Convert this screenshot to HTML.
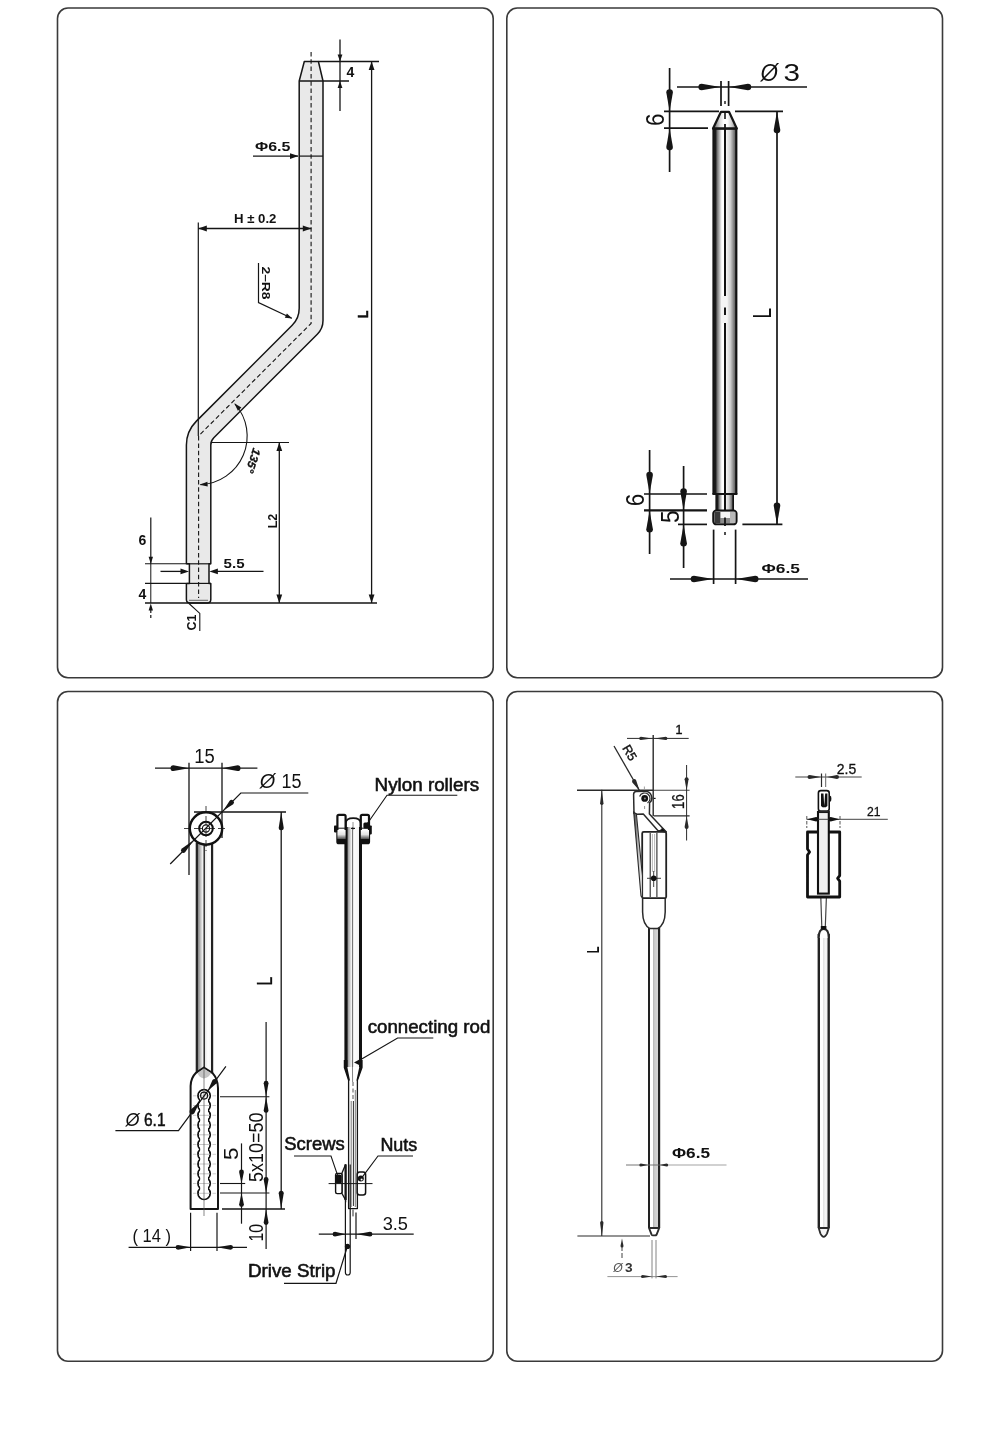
<!DOCTYPE html>
<html lang="en"><head><meta charset="utf-8"><title>Rod dimension drawings</title>
<style>
html,body{margin:0;padding:0;background:#fff;}
body{width:1000px;height:1434px;overflow:hidden;font-family:"Liberation Sans",sans-serif;}
svg{display:block;filter:grayscale(1);}
</style></head><body>
<svg width="1000" height="1434" viewBox="0 0 1000 1434">
<rect width="1000" height="1434" fill="#fff"/>
<rect x="57.5" y="8" width="435.7" height="669.7" rx="10.5" ry="10.5" fill="#fff" stroke="#3a3a3a" stroke-width="1.6"/>
<rect x="506.8" y="8" width="435.7" height="669.7" rx="10.5" ry="10.5" fill="#fff" stroke="#3a3a3a" stroke-width="1.6"/>
<rect x="57.5" y="691.5" width="435.7" height="669.7" rx="10.5" ry="10.5" fill="#fff" stroke="#3a3a3a" stroke-width="1.6"/>
<rect x="506.8" y="691.5" width="435.7" height="669.7" rx="10.5" ry="10.5" fill="#fff" stroke="#3a3a3a" stroke-width="1.6"/>
<path d="M304.3,61.5 L318.4,61.5 L323,81 L323,320.5 Q323,328.5 317.3,334.2 L213.8,437.7 Q210.8,440.7 210.8,445 L210.8,563.8 L209,563.8 L209,583.4 L210.8,583.4 L210.8,599.5 Q210.8,603 207.3,603 L190,603 Q186.4,603 186.4,599.5 L186.4,583.4 L189.4,583.4 L189.4,563.8 L186.4,563.8 L186.4,445.1 Q186.4,431.1 196.4,421.1 L292.2,325.3 Q299.2,318.3 299.2,308.3 L299.2,81 Z" stroke="#151515" stroke-width="1.5" fill="#ebe8e8" stroke-linejoin="round"/>
<line x1="299.2" y1="81.0" x2="349.0" y2="81.0" stroke="#151515" stroke-width="1.3" />
<line x1="299.2" y1="156.1" x2="323.0" y2="156.1" stroke="#151515" stroke-width="1.2" />
<line x1="186.4" y1="563.8" x2="210.8" y2="563.8" stroke="#151515" stroke-width="1.2" />
<line x1="186.4" y1="583.4" x2="210.8" y2="583.4" stroke="#151515" stroke-width="1.2" />
<line x1="189.0" y1="600.3" x2="208.0" y2="600.3" stroke="#444" stroke-width="0.8" />
<path d="M311.1,52 L311.1,323.4 L198.6,435.9 L198.6,598" stroke="#151515" stroke-width="1.1" fill="none" stroke-dasharray="4.5 2.8"/>
<line x1="318.4" y1="61.5" x2="379.0" y2="61.5" stroke="#151515" stroke-width="1.3" />
<line x1="340.0" y1="39.5" x2="340.0" y2="111.0" stroke="#151515" stroke-width="1.3" />
<polygon points="340.0,61.5 337.6,54.5 342.4,54.5" fill="#151515"/>
<polygon points="340.0,81.0 342.4,88.0 337.6,88.0" fill="#151515"/>
<text x="346.5" y="76.5" font-family="&quot;Liberation Sans&quot;, sans-serif" font-size="14" font-weight="bold" text-anchor="start" fill="#111">4</text>
<line x1="371.6" y1="61.5" x2="371.6" y2="603.0" stroke="#151515" stroke-width="1.3" />
<polygon points="371.6,61.5 374.5,70.0 368.7,70.0" fill="#151515"/>
<polygon points="371.6,603.0 368.7,594.5 374.5,594.5" fill="#151515"/>
<text x="367.8" y="314.3" font-family="&quot;Liberation Sans&quot;, sans-serif" font-size="14.5" font-weight="bold" text-anchor="middle" fill="#111" stroke="#111" stroke-width="0.5" textLength="7.4" lengthAdjust="spacingAndGlyphs" transform="rotate(-90 367.8 314.3)">L</text>
<line x1="253.0" y1="156.1" x2="298.0" y2="156.1" stroke="#151515" stroke-width="1.3" />
<polygon points="298.5,156.1 290.0,159.0 290.0,153.2" fill="#151515"/>
<text x="255.0" y="151.0" font-family="&quot;Liberation Sans&quot;, sans-serif" font-size="13.5" font-weight="bold" text-anchor="start" fill="#111" textLength="35.5" lengthAdjust="spacingAndGlyphs">Φ6.5</text>
<line x1="198.3" y1="222.5" x2="198.3" y2="436.0" stroke="#151515" stroke-width="1.2" />
<line x1="198.3" y1="228.5" x2="311.3" y2="228.5" stroke="#151515" stroke-width="1.3" />
<polygon points="198.3,228.5 206.8,225.6 206.8,231.4" fill="#151515"/>
<polygon points="311.3,228.5 302.8,231.4 302.8,225.6" fill="#151515"/>
<text x="234.0" y="223.4" font-family="&quot;Liberation Sans&quot;, sans-serif" font-size="12" font-weight="bold" text-anchor="start" fill="#111" textLength="42.4" lengthAdjust="spacingAndGlyphs">H ± 0.2</text>
<path d="M258.5,263 L258.5,302.6 L291.8,318.3" stroke="#151515" stroke-width="1.2" fill="none" />
<polygon points="292.2,318.5 284.8,317.7 286.9,313.4" fill="#151515"/>
<text x="261.8" y="266.5" font-family="&quot;Liberation Sans&quot;, sans-serif" font-size="11.5" font-weight="bold" text-anchor="start" fill="#111" textLength="33.0" lengthAdjust="spacingAndGlyphs" transform="rotate(90 261.8 266.5)">2–R8</text>
<line x1="210.8" y1="442.5" x2="289.0" y2="442.5" stroke="#151515" stroke-width="1.2" />
<path d="M235.0,404.0 A48.5,48.5 0 0 1 200.4,484.6" stroke="#151515" stroke-width="1.1" fill="none" />
<polygon points="234.3,403.2 241.4,407.5 237.9,410.8" fill="#151515"/>
<polygon points="199.6,484.7 207.4,481.7 207.7,486.5" fill="#151515"/>
<text x="253.2" y="447.5" font-family="&quot;Liberation Sans&quot;, sans-serif" font-size="11.5" font-weight="bold" text-anchor="start" fill="#111" font-style="italic" stroke="#111" stroke-width="0.3" textLength="25.0" lengthAdjust="spacingAndGlyphs" transform="rotate(108 253.2 447.5)">135°</text>
<line x1="279.3" y1="442.5" x2="279.3" y2="603.0" stroke="#151515" stroke-width="1.3" />
<polygon points="279.3,442.5 282.2,451.0 276.4,451.0" fill="#151515"/>
<polygon points="279.3,603.0 276.4,594.5 282.2,594.5" fill="#151515"/>
<text x="277.3" y="521.0" font-family="&quot;Liberation Sans&quot;, sans-serif" font-size="12" font-weight="bold" text-anchor="middle" fill="#111" textLength="14.5" lengthAdjust="spacingAndGlyphs" transform="rotate(-90 277.3 521.0)">L2</text>
<line x1="145.0" y1="603.0" x2="377.0" y2="603.0" stroke="#151515" stroke-width="1.3" />
<line x1="145.0" y1="563.8" x2="186.0" y2="563.8" stroke="#151515" stroke-width="1.1" />
<line x1="145.0" y1="583.4" x2="186.0" y2="583.4" stroke="#151515" stroke-width="1.1" />
<line x1="150.8" y1="517.5" x2="150.8" y2="563.0" stroke="#151515" stroke-width="1.2" />
<line x1="150.8" y1="563.0" x2="150.8" y2="603.0" stroke="#151515" stroke-width="1.0" />
<polygon points="150.8,563.8 148.6,556.8 153.0,556.8" fill="#151515"/>
<line x1="150.8" y1="610.0" x2="150.8" y2="618.0" stroke="#151515" stroke-width="1.2" stroke-dasharray="3 2"/>
<polygon points="150.8,603.5 153.0,610.5 148.6,610.5" fill="#151515"/>
<text x="138.5" y="544.8" font-family="&quot;Liberation Sans&quot;, sans-serif" font-size="14" font-weight="bold" text-anchor="start" fill="#111">6</text>
<text x="138.5" y="599.4" font-family="&quot;Liberation Sans&quot;, sans-serif" font-size="14" font-weight="bold" text-anchor="start" fill="#111">4</text>
<line x1="160.5" y1="571.4" x2="182.0" y2="571.4" stroke="#151515" stroke-width="1.3" />
<polygon points="189.0,571.4 180.5,574.3 180.5,568.5" fill="#151515"/>
<line x1="217.0" y1="571.4" x2="263.5" y2="571.4" stroke="#151515" stroke-width="1.3" />
<polygon points="209.4,571.4 217.9,568.5 217.9,574.3" fill="#151515"/>
<text x="223.6" y="568.0" font-family="&quot;Liberation Sans&quot;, sans-serif" font-size="13.5" font-weight="bold" text-anchor="start" fill="#111" textLength="21.0" lengthAdjust="spacingAndGlyphs">5.5</text>
<path d="M189,603.5 L199.8,613.4 L199.8,631" stroke="#151515" stroke-width="1.1" fill="none" />
<text x="196.3" y="622.5" font-family="&quot;Liberation Sans&quot;, sans-serif" font-size="12" font-weight="bold" text-anchor="middle" fill="#111" textLength="16.0" lengthAdjust="spacingAndGlyphs" transform="rotate(-90 196.3 622.5)">C1</text>
<defs>
<linearGradient id="g2" x1="0" x2="1" y1="0" y2="0">
<stop offset="0" stop-color="#111"/><stop offset="0.13" stop-color="#1c1c1c"/><stop offset="0.2" stop-color="#777"/>
<stop offset="0.38" stop-color="#fff"/><stop offset="0.46" stop-color="#fff"/><stop offset="0.47" stop-color="#111"/><stop offset="0.55" stop-color="#111"/>
<stop offset="0.56" stop-color="#f2f2f2"/><stop offset="0.72" stop-color="#cfcfcf"/><stop offset="0.9" stop-color="#666"/><stop offset="0.93" stop-color="#111"/><stop offset="1" stop-color="#111"/>
</linearGradient>
<linearGradient id="g3" x1="0" x2="1" y1="0" y2="0">
<stop offset="0" stop-color="#222"/><stop offset="0.11" stop-color="#2a2a2a"/><stop offset="0.15" stop-color="#8a8a92"/>
<stop offset="0.38" stop-color="#ececf0"/><stop offset="0.44" stop-color="#fff"/><stop offset="0.45" stop-color="#333"/><stop offset="0.51" stop-color="#333"/>
<stop offset="0.53" stop-color="#e8e8ee"/><stop offset="0.7" stop-color="#fff"/><stop offset="0.88" stop-color="#f4f4f4"/><stop offset="0.90" stop-color="#222"/><stop offset="1" stop-color="#222"/>
</linearGradient>
<linearGradient id="g4" x1="0" x2="1" y1="0" y2="0">
<stop offset="0" stop-color="#222"/><stop offset="0.14" stop-color="#333"/><stop offset="0.2" stop-color="#aaa"/>
<stop offset="0.42" stop-color="#f2f2f2"/><stop offset="0.5" stop-color="#999"/><stop offset="0.58" stop-color="#f2f2f2"/>
<stop offset="0.8" stop-color="#aaa"/><stop offset="0.86" stop-color="#333"/><stop offset="1" stop-color="#222"/>
</linearGradient>
<linearGradient id="g2c" x1="0" x2="1" y1="0" y2="0">
<stop offset="0" stop-color="#555"/><stop offset="0.3" stop-color="#ddd"/><stop offset="0.45" stop-color="#fff"/><stop offset="0.6" stop-color="#fff"/><stop offset="0.8" stop-color="#ccc"/><stop offset="1" stop-color="#666"/>
</linearGradient>
<linearGradient id="g5" x1="0" x2="1" y1="0" y2="0">
<stop offset="0" stop-color="#111"/><stop offset="0.16" stop-color="#111"/><stop offset="0.2" stop-color="#999"/>
<stop offset="0.4" stop-color="#f2f2f2"/><stop offset="0.45" stop-color="#fff"/><stop offset="0.46" stop-color="#777"/><stop offset="0.50" stop-color="#777"/>
<stop offset="0.52" stop-color="#fff"/><stop offset="0.82" stop-color="#f4f4f4"/><stop offset="0.84" stop-color="#111"/><stop offset="1" stop-color="#111"/>
</linearGradient>
<linearGradient id="gr" x1="0" x2="0" y1="0" y2="1">
<stop offset="0" stop-color="#fff"/><stop offset="0.35" stop-color="#e4e4e4"/><stop offset="0.68" stop-color="#555"/><stop offset="0.72" stop-color="#111"/><stop offset="1" stop-color="#111"/>
</linearGradient>
<linearGradient id="gw" x1="0" x2="1" y1="0" y2="0">
<stop offset="0" stop-color="#333"/><stop offset="0.5" stop-color="#bbb"/><stop offset="1" stop-color="#fff"/>
</linearGradient>
<linearGradient id="g6" x1="0" x2="1" y1="0" y2="0">
<stop offset="0" stop-color="#222"/><stop offset="0.17" stop-color="#222"/><stop offset="0.2" stop-color="#fff"/>
<stop offset="0.38" stop-color="#fff"/><stop offset="0.42" stop-color="#ccc"/><stop offset="0.48" stop-color="#aaa"/><stop offset="0.54" stop-color="#ccc"/>
<stop offset="0.8" stop-color="#d4d4d4"/><stop offset="0.83" stop-color="#222"/><stop offset="1" stop-color="#222"/>
</linearGradient>
<linearGradient id="g7" x1="0" x2="1" y1="0" y2="0">
<stop offset="0" stop-color="#222"/><stop offset="0.18" stop-color="#222"/><stop offset="0.22" stop-color="#fff"/>
<stop offset="0.4" stop-color="#fff"/><stop offset="0.5" stop-color="#ddd"/><stop offset="0.6" stop-color="#f6f6f6"/>
<stop offset="0.79" stop-color="#f0f0f0"/><stop offset="0.82" stop-color="#222"/><stop offset="1" stop-color="#222"/>
</linearGradient>
</defs>
<rect x="712.4" y="128" width="25" height="366" fill="url(#g2)"/>
<path d="M713,128.5 L721,111.8 L729,111.8 L736.8,128.5 Z" stroke="#151515" stroke-width="2.2" fill="url(#g2c)" stroke-linejoin="round"/>
<line x1="725.0" y1="113.0" x2="725.0" y2="119.0" stroke="#151515" stroke-width="1.6" />
<line x1="725.0" y1="124.0" x2="725.0" y2="129.0" stroke="#151515" stroke-width="1.8" />
<line x1="712.6" y1="128.6" x2="737.2" y2="128.6" stroke="#151515" stroke-width="2.2" />
<rect x="721.6" y="296" width="6" height="27" fill="#f4f4f4"/>
<line x1="725.0" y1="307.5" x2="725.0" y2="315.0" stroke="#151515" stroke-width="2" />
<rect x="715.4" y="494" width="18.6" height="16.4" fill="url(#g2)"/>
<line x1="712.4" y1="494.0" x2="737.4" y2="494.0" stroke="#151515" stroke-width="2.0" />
<rect x="713.2" y="510.4" width="23.4" height="14" rx="3.2" ry="3.2" fill="#8a8a8a" stroke="#111" stroke-width="1.9"/>
<rect x="714.8" y="512" width="5.4" height="11" fill="#3a3a3a"/>
<rect x="720.6" y="512" width="9.4" height="6" fill="#f4f4f4"/>
<rect x="730" y="512" width="5.4" height="11" fill="#b8b8b8"/>
<line x1="725.0" y1="517.5" x2="725.0" y2="526.0" stroke="#151515" stroke-width="1.8" />
<line x1="725.0" y1="532.0" x2="725.0" y2="535.0" stroke="#151515" stroke-width="1.5" />
<line x1="677.0" y1="87.0" x2="807.0" y2="87.0" stroke="#151515" stroke-width="1.5" />
<line x1="721.0" y1="81.0" x2="721.0" y2="106.0" stroke="#151515" stroke-width="1.7" />
<line x1="728.6" y1="81.0" x2="728.6" y2="106.0" stroke="#151515" stroke-width="1.7" />
<path d="M720.40,87.00 L701.70,90.30 A3.30,3.30 0 0 1 701.70,83.70 Z" fill="#151515"/>
<path d="M729.20,87.00 L747.90,83.70 A3.30,3.30 0 0 1 747.90,90.30 Z" fill="#151515"/>
<line x1="725.0" y1="101.0" x2="725.0" y2="104.0" stroke="#151515" stroke-width="1.4" />
<text x="760.6" y="81.0" font-family="&quot;Liberation Sans&quot;, sans-serif" font-size="23.5" font-weight="normal" text-anchor="start" fill="#111" font-style="italic" textLength="17.5" lengthAdjust="spacingAndGlyphs">Ø</text>
<text x="783.6" y="81.0" font-family="&quot;Liberation Sans&quot;, sans-serif" font-size="23.5" font-weight="normal" text-anchor="start" fill="#111" textLength="16.5" lengthAdjust="spacingAndGlyphs">3</text>
<line x1="669.6" y1="68.0" x2="669.6" y2="172.0" stroke="#151515" stroke-width="1.7" />
<path d="M669.60,111.20 L666.30,92.50 A3.30,3.30 0 0 1 672.90,92.50 Z" fill="#151515"/>
<path d="M669.60,128.40 L672.90,147.10 A3.30,3.30 0 0 1 666.30,147.10 Z" fill="#151515"/>
<line x1="664.0" y1="111.4" x2="719.0" y2="111.4" stroke="#151515" stroke-width="1.7" />
<line x1="664.0" y1="128.2" x2="708.0" y2="128.2" stroke="#151515" stroke-width="1.7" />
<text x="664.2" y="119.6" font-family="&quot;Liberation Sans&quot;, sans-serif" font-size="26" font-weight="normal" text-anchor="middle" fill="#111" textLength="12.6" lengthAdjust="spacingAndGlyphs" transform="rotate(-90 664.2 119.6)">6</text>
<line x1="735.0" y1="111.4" x2="783.0" y2="111.4" stroke="#151515" stroke-width="1.7" />
<line x1="777.0" y1="111.4" x2="777.0" y2="524.4" stroke="#151515" stroke-width="1.7" />
<path d="M777.00,111.40 L780.30,130.10 A3.30,3.30 0 0 1 773.70,130.10 Z" fill="#151515"/>
<path d="M777.00,524.40 L773.70,505.70 A3.30,3.30 0 0 1 780.30,505.70 Z" fill="#151515"/>
<line x1="742.4" y1="524.4" x2="782.4" y2="524.4" stroke="#151515" stroke-width="1.7" />
<text x="771.2" y="313.2" font-family="&quot;Liberation Sans&quot;, sans-serif" font-size="25" font-weight="normal" text-anchor="middle" fill="#111" textLength="10.6" lengthAdjust="spacingAndGlyphs" transform="rotate(-90 771.2 313.2)">L</text>
<line x1="649.6" y1="450.0" x2="649.6" y2="554.0" stroke="#151515" stroke-width="1.7" />
<path d="M649.60,493.80 L646.30,475.10 A3.30,3.30 0 0 1 652.90,475.10 Z" fill="#151515"/>
<path d="M649.60,510.60 L652.90,529.30 A3.30,3.30 0 0 1 646.30,529.30 Z" fill="#151515"/>
<line x1="644.0" y1="494.0" x2="707.0" y2="494.0" stroke="#151515" stroke-width="1.7" />
<line x1="644.0" y1="510.4" x2="707.0" y2="510.4" stroke="#151515" stroke-width="2.1" />
<text x="644.2" y="500.0" font-family="&quot;Liberation Sans&quot;, sans-serif" font-size="26" font-weight="normal" text-anchor="middle" fill="#111" textLength="12.6" lengthAdjust="spacingAndGlyphs" transform="rotate(-90 644.2 500.0)">6</text>
<line x1="683.6" y1="466.0" x2="683.6" y2="568.0" stroke="#151515" stroke-width="1.7" />
<path d="M683.60,510.20 L680.30,491.50 A3.30,3.30 0 0 1 686.90,491.50 Z" fill="#151515"/>
<path d="M683.60,524.60 L686.90,543.30 A3.30,3.30 0 0 1 680.30,543.30 Z" fill="#151515"/>
<line x1="678.0" y1="524.4" x2="707.0" y2="524.4" stroke="#151515" stroke-width="1.7" />
<text x="679.2" y="516.8" font-family="&quot;Liberation Sans&quot;, sans-serif" font-size="26" font-weight="normal" text-anchor="middle" fill="#111" textLength="12.6" lengthAdjust="spacingAndGlyphs" transform="rotate(-90 679.2 516.8)">5</text>
<line x1="670.0" y1="579.0" x2="808.0" y2="579.0" stroke="#151515" stroke-width="1.5" />
<line x1="713.6" y1="529.6" x2="713.6" y2="584.0" stroke="#151515" stroke-width="1.7" />
<line x1="735.6" y1="529.6" x2="735.6" y2="584.0" stroke="#151515" stroke-width="1.7" />
<path d="M713.20,579.00 L694.00,582.30 A3.30,3.30 0 0 1 694.00,575.70 Z" fill="#151515"/>
<path d="M736.00,579.00 L755.20,575.70 A3.30,3.30 0 0 1 755.20,582.30 Z" fill="#151515"/>
<text x="761.6" y="573.0" font-family="&quot;Liberation Sans&quot;, sans-serif" font-size="13.5" font-weight="bold" text-anchor="start" fill="#111" textLength="38.4" lengthAdjust="spacingAndGlyphs">Φ6.5</text>
<rect x="195.7" y="843" width="17.5" height="230" fill="url(#g3)"/>
<path d="M190.6,1209 L190.6,1086 Q190.8,1078 196,1072.8 L203.9,1067.6 L212.6,1073.2 Q217.8,1079 218,1088 L218,1209 Z" stroke="#151515" stroke-width="2.0" fill="#fff" stroke-linejoin="round"/>
<path d="M203.9,1068.5 L197.5,1073 Q199,1077.5 203.9,1078.5 Q209,1077.5 211,1073 Z" stroke="#151515" stroke-width="0" fill="#c4c4cc" />
<circle cx="204.1" cy="1095.8" r="6.1" fill="none" stroke="#111" stroke-width="1.8"/>
<circle cx="204.1" cy="1105.5" r="6.1" fill="none" stroke="#111" stroke-width="1.8"/>
<circle cx="204.1" cy="1115.3" r="6.1" fill="none" stroke="#111" stroke-width="1.8"/>
<circle cx="204.1" cy="1125.0" r="6.1" fill="none" stroke="#111" stroke-width="1.8"/>
<circle cx="204.1" cy="1134.8" r="6.1" fill="none" stroke="#111" stroke-width="1.8"/>
<circle cx="204.1" cy="1144.5" r="6.1" fill="none" stroke="#111" stroke-width="1.8"/>
<circle cx="204.1" cy="1154.3" r="6.1" fill="none" stroke="#111" stroke-width="1.8"/>
<circle cx="204.1" cy="1164.0" r="6.1" fill="none" stroke="#111" stroke-width="1.8"/>
<circle cx="204.1" cy="1173.8" r="6.1" fill="none" stroke="#111" stroke-width="1.8"/>
<circle cx="204.1" cy="1183.5" r="6.1" fill="none" stroke="#111" stroke-width="1.8"/>
<circle cx="204.1" cy="1193.3" r="6.1" fill="none" stroke="#111" stroke-width="1.8"/>
<rect x="200.2" y="1095.8" width="7.8" height="97.5" fill="#fff"/>
<circle cx="204.1" cy="1095.8" r="5.2" fill="#fff"/>
<line x1="199.0" y1="1095.8" x2="210.0" y2="1095.8" stroke="#888" stroke-width="0.5" />
<circle cx="204.1" cy="1105.5" r="5.2" fill="#fff"/>
<line x1="199.0" y1="1105.5" x2="210.0" y2="1105.5" stroke="#888" stroke-width="0.5" />
<circle cx="204.1" cy="1115.3" r="5.2" fill="#fff"/>
<line x1="199.0" y1="1115.3" x2="210.0" y2="1115.3" stroke="#888" stroke-width="0.5" />
<circle cx="204.1" cy="1125.0" r="5.2" fill="#fff"/>
<line x1="199.0" y1="1125.0" x2="210.0" y2="1125.0" stroke="#888" stroke-width="0.5" />
<circle cx="204.1" cy="1134.8" r="5.2" fill="#fff"/>
<line x1="199.0" y1="1134.8" x2="210.0" y2="1134.8" stroke="#888" stroke-width="0.5" />
<circle cx="204.1" cy="1144.5" r="5.2" fill="#fff"/>
<line x1="199.0" y1="1144.5" x2="210.0" y2="1144.5" stroke="#888" stroke-width="0.5" />
<circle cx="204.1" cy="1154.3" r="5.2" fill="#fff"/>
<line x1="199.0" y1="1154.3" x2="210.0" y2="1154.3" stroke="#888" stroke-width="0.5" />
<circle cx="204.1" cy="1164.0" r="5.2" fill="#fff"/>
<line x1="199.0" y1="1164.0" x2="210.0" y2="1164.0" stroke="#888" stroke-width="0.5" />
<circle cx="204.1" cy="1173.8" r="5.2" fill="#fff"/>
<line x1="199.0" y1="1173.8" x2="210.0" y2="1173.8" stroke="#888" stroke-width="0.5" />
<circle cx="204.1" cy="1183.5" r="5.2" fill="#fff"/>
<line x1="199.0" y1="1183.5" x2="210.0" y2="1183.5" stroke="#888" stroke-width="0.5" />
<circle cx="204.1" cy="1193.3" r="5.2" fill="#fff"/>
<line x1="199.0" y1="1193.3" x2="210.0" y2="1193.3" stroke="#888" stroke-width="0.5" />
<line x1="204.0" y1="1068.0" x2="204.0" y2="1216.0" stroke="#555" stroke-width="0.7" />
<circle cx="204.1" cy="1095.6" r="3.5" fill="none" stroke="#111" stroke-width="1.2"/>
<line x1="193.0" y1="1095.8" x2="196.5" y2="1095.8" stroke="#999" stroke-width="0.5" />
<line x1="212.5" y1="1095.8" x2="216.0" y2="1095.8" stroke="#999" stroke-width="0.5" />
<line x1="193.0" y1="1105.5" x2="196.5" y2="1105.5" stroke="#999" stroke-width="0.5" />
<line x1="212.5" y1="1105.5" x2="216.0" y2="1105.5" stroke="#999" stroke-width="0.5" />
<line x1="193.0" y1="1115.3" x2="196.5" y2="1115.3" stroke="#999" stroke-width="0.5" />
<line x1="212.5" y1="1115.3" x2="216.0" y2="1115.3" stroke="#999" stroke-width="0.5" />
<line x1="193.0" y1="1125.0" x2="196.5" y2="1125.0" stroke="#999" stroke-width="0.5" />
<line x1="212.5" y1="1125.0" x2="216.0" y2="1125.0" stroke="#999" stroke-width="0.5" />
<line x1="193.0" y1="1134.8" x2="196.5" y2="1134.8" stroke="#999" stroke-width="0.5" />
<line x1="212.5" y1="1134.8" x2="216.0" y2="1134.8" stroke="#999" stroke-width="0.5" />
<line x1="193.0" y1="1144.5" x2="196.5" y2="1144.5" stroke="#999" stroke-width="0.5" />
<line x1="212.5" y1="1144.5" x2="216.0" y2="1144.5" stroke="#999" stroke-width="0.5" />
<line x1="193.0" y1="1154.3" x2="196.5" y2="1154.3" stroke="#999" stroke-width="0.5" />
<line x1="212.5" y1="1154.3" x2="216.0" y2="1154.3" stroke="#999" stroke-width="0.5" />
<line x1="193.0" y1="1164.0" x2="196.5" y2="1164.0" stroke="#999" stroke-width="0.5" />
<line x1="212.5" y1="1164.0" x2="216.0" y2="1164.0" stroke="#999" stroke-width="0.5" />
<line x1="193.0" y1="1173.8" x2="196.5" y2="1173.8" stroke="#999" stroke-width="0.5" />
<line x1="212.5" y1="1173.8" x2="216.0" y2="1173.8" stroke="#999" stroke-width="0.5" />
<line x1="193.0" y1="1183.5" x2="196.5" y2="1183.5" stroke="#999" stroke-width="0.5" />
<line x1="212.5" y1="1183.5" x2="216.0" y2="1183.5" stroke="#999" stroke-width="0.5" />
<line x1="193.0" y1="1193.3" x2="196.5" y2="1193.3" stroke="#999" stroke-width="0.5" />
<line x1="212.5" y1="1193.3" x2="216.0" y2="1193.3" stroke="#999" stroke-width="0.5" />
<circle cx="206" cy="828.5" r="16.2" fill="#fff" stroke="#111" stroke-width="2.4"/>
<circle cx="206" cy="828.5" r="6.8" fill="none" stroke="#111" stroke-width="2"/>
<circle cx="206" cy="828.5" r="3.6" fill="none" stroke="#111" stroke-width="1.1"/>
<line x1="184.0" y1="828.5" x2="228.0" y2="828.5" stroke="#151515" stroke-width="0.8" stroke-dasharray="7 3 9 3 9 3 7 3"/>
<line x1="206.0" y1="806.0" x2="206.0" y2="851.0" stroke="#151515" stroke-width="0.8" stroke-dasharray="7 3 9 3 9 3 7 3"/>
<line x1="155.0" y1="768.2" x2="257.4" y2="768.2" stroke="#151515" stroke-width="1.2" />
<line x1="189.0" y1="762.8" x2="189.0" y2="875.0" stroke="#151515" stroke-width="1.3" />
<line x1="222.0" y1="762.8" x2="222.0" y2="838.0" stroke="#151515" stroke-width="1.3" />
<path d="M189.00,768.20 L173.40,771.10 A2.90,2.90 0 0 1 173.40,765.30 Z" fill="#151515"/>
<path d="M222.00,768.20 L237.60,765.30 A2.90,2.90 0 0 1 237.60,771.10 Z" fill="#151515"/>
<text x="194.3" y="763.3" font-family="&quot;Liberation Sans&quot;, sans-serif" font-size="20.5" font-weight="normal" text-anchor="start" fill="#111" textLength="20.5" lengthAdjust="spacingAndGlyphs">15</text>
<path d="M308.3,793 L240.8,793 L170.2,864" stroke="#151515" stroke-width="1.2" fill="none" />
<path d="M223.30,810.60 L229.66,800.70 A2.50,2.50 0 0 1 233.20,804.24 Z" fill="#151515"/>
<path d="M193.60,840.20 L185.11,852.22 A2.50,2.50 0 0 1 181.58,848.69 Z" fill="#151515"/>
<text x="259.8" y="788.0" font-family="&quot;Liberation Sans&quot;, sans-serif" font-size="20" font-weight="normal" text-anchor="start" fill="#111" font-style="italic" textLength="15.5" lengthAdjust="spacingAndGlyphs">Ø</text>
<text x="281.6" y="788.0" font-family="&quot;Liberation Sans&quot;, sans-serif" font-size="20" font-weight="normal" text-anchor="start" fill="#111" textLength="20.0" lengthAdjust="spacingAndGlyphs">15</text>
<line x1="194.0" y1="812.0" x2="286.0" y2="812.0" stroke="#151515" stroke-width="1.3" />
<line x1="281.2" y1="812.0" x2="281.2" y2="1209.0" stroke="#151515" stroke-width="1.3" />
<path d="M281.20,812.20 L283.70,827.70 A2.50,2.50 0 0 1 278.70,827.70 Z" fill="#151515"/>
<path d="M281.20,1208.80 L278.70,1193.30 A2.50,2.50 0 0 1 283.70,1193.30 Z" fill="#151515"/>
<text x="272.3" y="981.0" font-family="&quot;Liberation Sans&quot;, sans-serif" font-size="21.5" font-weight="normal" text-anchor="middle" fill="#111" stroke="#111" stroke-width="0.3" textLength="8.8" lengthAdjust="spacingAndGlyphs" transform="rotate(-90 272.3 981.0)">L</text>
<path d="M115.4,1130.6 L178.5,1130.6 L225.9,1066.4" stroke="#151515" stroke-width="1.2" fill="none" />
<path d="M200.20,1101.00 L194.32,1113.32 A2.60,2.60 0 0 1 190.14,1110.23 Z" fill="#151515"/>
<path d="M207.80,1090.80 L212.49,1080.09 A2.60,2.60 0 0 1 216.67,1083.18 Z" fill="#151515"/>
<text x="125.6" y="1126.2" font-family="&quot;Liberation Sans&quot;, sans-serif" font-size="17.5" font-weight="normal" text-anchor="start" fill="#111" font-style="italic" textLength="14.0" lengthAdjust="spacingAndGlyphs">Ø</text>
<text x="144.0" y="1126.2" font-family="&quot;Liberation Sans&quot;, sans-serif" font-size="17.5" font-weight="normal" text-anchor="start" fill="#111" stroke="#111" stroke-width="0.5" textLength="21.5" lengthAdjust="spacingAndGlyphs">6.1</text>
<line x1="220.0" y1="1096.8" x2="269.4" y2="1096.8" stroke="#151515" stroke-width="1.1" />
<line x1="220.0" y1="1183.5" x2="245.2" y2="1183.5" stroke="#151515" stroke-width="1.1" />
<line x1="220.0" y1="1193.0" x2="269.4" y2="1193.0" stroke="#151515" stroke-width="1.1" />
<line x1="222.0" y1="1209.0" x2="285.0" y2="1209.0" stroke="#151515" stroke-width="1.3" />
<line x1="266.1" y1="1022.0" x2="266.1" y2="1249.0" stroke="#151515" stroke-width="1.2" />
<path d="M266.10,1096.80 L263.70,1083.20 A2.40,2.40 0 0 1 268.50,1083.20 Z" fill="#151515"/>
<path d="M266.10,1096.80 L268.50,1110.40 A2.40,2.40 0 0 1 263.70,1110.40 Z" fill="#151515"/>
<path d="M266.10,1193.00 L263.70,1179.40 A2.40,2.40 0 0 1 268.50,1179.40 Z" fill="#151515"/>
<path d="M266.10,1209.00 L268.50,1222.60 A2.40,2.40 0 0 1 263.70,1222.60 Z" fill="#151515"/>
<line x1="241.5" y1="1143.4" x2="241.5" y2="1223.7" stroke="#151515" stroke-width="1.2" />
<path d="M241.50,1183.50 L239.10,1171.90 A2.40,2.40 0 0 1 243.90,1171.90 Z" fill="#151515"/>
<path d="M241.50,1193.00 L243.90,1204.60 A2.40,2.40 0 0 1 239.10,1204.60 Z" fill="#151515"/>
<text x="262.5" y="1182.0" font-family="&quot;Liberation Sans&quot;, sans-serif" font-size="19.5" font-weight="normal" text-anchor="start" fill="#111" textLength="69.5" lengthAdjust="spacingAndGlyphs" transform="rotate(-90 262.5 1182.0)">5x10=50</text>
<text x="238.3" y="1160.0" font-family="&quot;Liberation Sans&quot;, sans-serif" font-size="19.5" font-weight="normal" text-anchor="start" fill="#111" textLength="12.5" lengthAdjust="spacingAndGlyphs" transform="rotate(-90 238.3 1160.0)">5</text>
<text x="262.5" y="1241.5" font-family="&quot;Liberation Sans&quot;, sans-serif" font-size="19.5" font-weight="normal" text-anchor="start" fill="#111" textLength="17.5" lengthAdjust="spacingAndGlyphs" transform="rotate(-90 262.5 1241.5)">10</text>
<line x1="128.6" y1="1247.3" x2="247.0" y2="1247.3" stroke="#151515" stroke-width="1.2" />
<line x1="190.6" y1="1212.7" x2="190.6" y2="1251.0" stroke="#151515" stroke-width="1.2" />
<line x1="217.0" y1="1212.7" x2="217.0" y2="1251.0" stroke="#151515" stroke-width="1.2" />
<path d="M190.60,1247.30 L178.00,1249.70 A2.40,2.40 0 0 1 178.00,1244.90 Z" fill="#151515"/>
<path d="M217.00,1247.30 L230.60,1244.90 A2.40,2.40 0 0 1 230.60,1249.70 Z" fill="#151515"/>
<text x="132.4" y="1242.4" font-family="&quot;Liberation Sans&quot;, sans-serif" font-size="17.5" font-weight="normal" text-anchor="start" fill="#111" textLength="38.6" lengthAdjust="spacingAndGlyphs">( 14 )</text>
<rect x="344.4" y="826" width="17.6" height="241.5" fill="url(#g5)"/>
<path d="M345.8,827 L345.8,823 Q346,818.2 353.2,818.2 Q360.4,818.2 360.6,823 L360.6,827" stroke="#151515" stroke-width="1.8" fill="#fff" />
<line x1="353.0" y1="822.0" x2="353.0" y2="830.0" stroke="#777" stroke-width="0.8" />
<line x1="351.0" y1="828.4" x2="355.0" y2="828.4" stroke="#151515" stroke-width="1.2" />
<rect x="337.4" y="814.8" width="8.200000000000045" height="28.4" rx="1.5" fill="#fff" stroke="#111" stroke-width="2.2"/>
<rect x="337.4" y="830" width="8.200000000000045" height="13" fill="url(#gr)"/>
<line x1="337.4" y1="828.2" x2="345.6" y2="828.2" stroke="#151515" stroke-width="1.0" />
<rect x="360.8" y="814.8" width="8.199999999999989" height="28.4" rx="1.5" fill="#fff" stroke="#111" stroke-width="2.2"/>
<rect x="360.8" y="830" width="8.199999999999989" height="13" fill="url(#gr)"/>
<line x1="360.8" y1="828.2" x2="369.0" y2="828.2" stroke="#151515" stroke-width="1.0" />
<rect x="334" y="825.4" width="3.2" height="7" rx="0.8" fill="#111"/>
<rect x="369.2" y="825.4" width="2.6" height="9" rx="0.8" fill="#111"/>
<rect x="363.4" y="822.6" width="6.4" height="6" rx="1.5" fill="#111"/>
<path d="M345.4,1067 L349.2,1080.4 L349.2,1208 L356.8,1208 L356.8,1080.4 L361,1067 Z" stroke="#151515" stroke-width="0" fill="#fff" />
<path d="M344.4,1060 L344.4,1067.5 L348.6,1080.4 L348.6,1208.6 L357.4,1208.6 L357.4,1080.4 L362,1067.5 L362,1060" stroke="#151515" stroke-width="1.3" fill="none" stroke-linejoin="round"/>
<path d="M344.4,1060 L344.4,1067.5 L348.6,1080.4 L350,1080.4 L347.4,1067.5 L347.4,1060 Z" stroke="#151515" stroke-width="0" fill="#111" />
<path d="M362,1060 L362,1067.5 L357.6,1080.4 L356.4,1080.4 L359.2,1067.5 L359.2,1060 Z" stroke="#151515" stroke-width="0" fill="#111" />
<line x1="352.4" y1="1060.0" x2="352.6" y2="1082.0" stroke="#666" stroke-width="0.8" />
<line x1="353.0" y1="1082.0" x2="353.0" y2="1100.0" stroke="#444" stroke-width="0.9" stroke-dasharray="4 2.5"/>
<line x1="353.4" y1="1101.0" x2="353.4" y2="1206.0" stroke="#151515" stroke-width="0.9" />
<path d="M345.4,1164.4 L345.4,1272.5 Q345.4,1275 347.8,1275 Q350.2,1275 350.2,1272.5 L350.2,1164.4" stroke="#151515" stroke-width="1.2" fill="none" />
<line x1="351.2" y1="1101.0" x2="351.2" y2="1207.0" stroke="#444" stroke-width="0.7" />
<line x1="355.3" y1="1090.0" x2="355.3" y2="1207.0" stroke="#444" stroke-width="0.7" />
<path d="M345.6,1164.4 L342,1173 L342,1193.6 L345.6,1200 Z" stroke="#151515" stroke-width="1.3" fill="#fff" />
<line x1="345.6" y1="1164.4" x2="345.6" y2="1200.0" stroke="#151515" stroke-width="2.2" />
<rect x="335.6" y="1173.4" width="6.4" height="20.2" rx="1.5" fill="#fff" stroke="#111" stroke-width="1.4"/>
<rect x="335.6" y="1174.6" width="6" height="9" rx="2" fill="#111"/>
<rect x="357.2" y="1172" width="8.4" height="23" rx="2.5" fill="#fff" stroke="#111" stroke-width="1.5"/>
<circle cx="360.8" cy="1178.4" r="3" fill="#111"/>
<circle cx="361.6" cy="1179.4" r="1" fill="#fff"/>
<line x1="328.6" y1="1183.6" x2="372.5" y2="1183.6" stroke="#151515" stroke-width="1.0" />
<text x="374.6" y="791.4" font-family="&quot;Liberation Sans&quot;, sans-serif" font-size="17.8" font-weight="normal" text-anchor="start" fill="#111" stroke="#111" stroke-width="0.55" textLength="104.5" lengthAdjust="spacingAndGlyphs">Nylon rollers</text>
<path d="M457.3,795.2 L387,795.2 L366,825.5" stroke="#151515" stroke-width="1.1" fill="none" />
<text x="367.7" y="1032.9" font-family="&quot;Liberation Sans&quot;, sans-serif" font-size="17.8" font-weight="normal" text-anchor="start" fill="#111" stroke="#111" stroke-width="0.55" textLength="122.6" lengthAdjust="spacingAndGlyphs">connecting rod</text>
<path d="M433.3,1038 L397.6,1038 L360,1060" stroke="#151515" stroke-width="1.2" fill="none" />
<polygon points="354,1062.6 361.2,1058.4 361.6,1066.2" fill="#111"/>
<text x="284.3" y="1149.5" font-family="&quot;Liberation Sans&quot;, sans-serif" font-size="17.8" font-weight="normal" text-anchor="start" fill="#111" stroke="#111" stroke-width="0.55" textLength="60.4" lengthAdjust="spacingAndGlyphs">Screws</text>
<path d="M294,1156 L331,1156 L339,1179.4" stroke="#151515" stroke-width="1.1" fill="none" />
<text x="380.4" y="1150.6" font-family="&quot;Liberation Sans&quot;, sans-serif" font-size="17.8" font-weight="normal" text-anchor="start" fill="#111" stroke="#111" stroke-width="0.55" textLength="36.8" lengthAdjust="spacingAndGlyphs">Nuts</text>
<path d="M413,1156 L378,1156 L361.5,1178.2" stroke="#151515" stroke-width="1.1" fill="none" />
<text x="248.0" y="1277.0" font-family="&quot;Liberation Sans&quot;, sans-serif" font-size="17.8" font-weight="normal" text-anchor="start" fill="#111" stroke="#111" stroke-width="0.55" textLength="87.5" lengthAdjust="spacingAndGlyphs">Drive Strip</text>
<path d="M284,1283.3 L336,1283.3 L347.5,1246" stroke="#151515" stroke-width="1.2" fill="none" />
<circle cx="347.5" cy="1246.4" r="2.6" fill="#111"/>
<line x1="318.8" y1="1234.1" x2="413.7" y2="1234.1" stroke="#151515" stroke-width="1.2" />
<line x1="356.0" y1="1212.5" x2="356.0" y2="1239.0" stroke="#151515" stroke-width="1.2" />
<line x1="353.0" y1="1209.6" x2="353.0" y2="1216.4" stroke="#151515" stroke-width="0.9" />
<path d="M345.60,1234.20 L335.00,1236.60 A2.40,2.40 0 0 1 335.00,1231.80 Z" fill="#151515"/>
<path d="M356.40,1234.20 L370.00,1231.80 A2.40,2.40 0 0 1 370.00,1236.60 Z" fill="#151515"/>
<text x="382.7" y="1230.0" font-family="&quot;Liberation Sans&quot;, sans-serif" font-size="17.5" font-weight="normal" text-anchor="start" fill="#111" textLength="25.3" lengthAdjust="spacingAndGlyphs">3.5</text>
<rect x="648" y="927" width="12.2" height="301" fill="url(#g6)"/>
<path d="M649,1228 L651.6,1234.6 Q652,1235.4 653,1235.4 L655,1235.4 Q656,1235.4 656.6,1234.6 L659.2,1228 Z" stroke="#2a2a2a" stroke-width="1.9" fill="#fff" stroke-linejoin="round"/>
<path d="M642.6,898 L642.6,912 Q642.8,925 650,928.6 L657.5,928.6 Q665,925 665.2,912 L665.2,898 Z" stroke="#2a2a2a" stroke-width="1.5" fill="#fff" />
<rect x="642.2" y="831.9" width="24" height="66.3" rx="1.5" fill="#fff" stroke="#222" stroke-width="1.8"/>
<line x1="650.2" y1="833.0" x2="650.2" y2="897.0" stroke="#2a2a2a" stroke-width="1.1" />
<line x1="656.9" y1="833.0" x2="656.9" y2="897.0" stroke="#2a2a2a" stroke-width="1.1" />
<line x1="652.4" y1="834.0" x2="652.4" y2="872.0" stroke="#999" stroke-width="0.7" />
<line x1="654.6" y1="834.0" x2="654.6" y2="872.0" stroke="#999" stroke-width="0.7" />
<line x1="647.0" y1="878.3" x2="661.0" y2="878.3" stroke="#2a2a2a" stroke-width="0.9" />
<line x1="653.7" y1="871.0" x2="653.7" y2="887.0" stroke="#2a2a2a" stroke-width="0.9" />
<circle cx="653.7" cy="878.3" r="2.8" fill="#111"/>
<path d="M636.2,791.6 L645,791.3 A6.6,6.6 0 0 1 649.6,802.8 L649.4,814 L666.3,832 L657.8,830.4 L643.3,814.1 L637,814.2 L634,813.4 L633.6,794.4 Q633.7,791.8 636.2,791.6 Z" stroke="#2a2a2a" stroke-width="1.5" fill="#fff" stroke-linejoin="round"/>
<path d="M659.5,831 L666.3,832 L662.5,828 Z" stroke="#2a2a2a" stroke-width="0.8" fill="#111" />
<path d="M639.6,796.5 A5.4,5.4 0 1 1 647.5,803" stroke="#2a2a2a" stroke-width="1.2" fill="none" />
<path d="M633.7,812 L641,896 L642.4,897.5 L642.4,876 L636.4,814 Z" stroke="#2a2a2a" stroke-width="1.1" fill="url(#gw)" />
<circle cx="644.7" cy="798.4" r="3.4" fill="#111"/>
<circle cx="644.9" cy="798.6" r="1" fill="#888"/>
<line x1="644.4" y1="786.5" x2="644.4" y2="789.0" stroke="#888" stroke-width="0.8" />
<line x1="653.6" y1="798.4" x2="655.6" y2="798.4" stroke="#151515" stroke-width="1.2" />
<line x1="644.6" y1="806.0" x2="644.6" y2="809.0" stroke="#777" stroke-width="0.8" />
<line x1="577.0" y1="790.2" x2="653.0" y2="790.2" stroke="#2a2a2a" stroke-width="1.5" />
<line x1="653.0" y1="790.2" x2="689.6" y2="790.2" stroke="#444" stroke-width="1.1" />
<line x1="601.8" y1="789.7" x2="601.8" y2="1236.0" stroke="#2a2a2a" stroke-width="1.1" />
<path d="M601.80,790.00 L603.50,803.30 A1.70,1.70 0 0 1 600.10,803.30 Z" fill="#2a2a2a"/>
<path d="M601.80,1236.00 L600.10,1222.70 A1.70,1.70 0 0 1 603.50,1222.70 Z" fill="#2a2a2a"/>
<text x="598.8" y="949.8" font-family="&quot;Liberation Sans&quot;, sans-serif" font-size="16" font-weight="bold" text-anchor="middle" fill="#111" textLength="6.8" lengthAdjust="spacingAndGlyphs" transform="rotate(-90 598.8 949.8)">L</text>
<line x1="577.4" y1="1236.0" x2="650.0" y2="1236.0" stroke="#2a2a2a" stroke-width="1.2" />
<line x1="653.2" y1="735.0" x2="653.2" y2="816.0" stroke="#2a2a2a" stroke-width="1.4" />
<line x1="627.0" y1="738.4" x2="688.7" y2="738.4" stroke="#2a2a2a" stroke-width="1.0" />
<path d="M652.20,738.40 L640.90,740.10 A1.70,1.70 0 0 1 640.90,736.70 Z" fill="#2a2a2a"/>
<path d="M654.40,738.40 L665.70,736.70 A1.70,1.70 0 0 1 665.70,740.10 Z" fill="#2a2a2a"/>
<text x="675.5" y="734.3" font-family="&quot;Liberation Sans&quot;, sans-serif" font-size="12.5" font-weight="normal" text-anchor="start" fill="#111" stroke="#111" stroke-width="0.4">1</text>
<line x1="614.0" y1="746.0" x2="639.2" y2="790.0" stroke="#2a2a2a" stroke-width="1.3" />
<path d="M639.60,790.80 L632.32,782.52 A2.20,2.20 0 0 1 636.14,780.33 Z" fill="#2a2a2a"/>
<text x="622.0" y="748.0" font-family="&quot;Liberation Sans&quot;, sans-serif" font-size="12.5" font-weight="normal" text-anchor="start" fill="#111" stroke="#111" stroke-width="0.4" transform="rotate(60.2 622.0 748.0)">R5</text>
<line x1="686.6" y1="765.0" x2="686.6" y2="840.5" stroke="#2a2a2a" stroke-width="1.0" />
<line x1="653.6" y1="815.9" x2="689.6" y2="815.9" stroke="#2a2a2a" stroke-width="1.1" />
<path d="M686.60,790.20 L684.60,779.20 A2.00,2.00 0 0 1 688.60,779.20 Z" fill="#2a2a2a"/>
<path d="M686.60,815.90 L688.60,826.90 A2.00,2.00 0 0 1 684.60,826.90 Z" fill="#2a2a2a"/>
<text x="684.2" y="801.6" font-family="&quot;Liberation Sans&quot;, sans-serif" font-size="16.5" font-weight="normal" text-anchor="middle" fill="#111" stroke="#111" stroke-width="0.3" textLength="14.6" lengthAdjust="spacingAndGlyphs" transform="rotate(-90 684.2 801.6)">16</text>
<line x1="626.0" y1="1165.0" x2="660.0" y2="1165.0" stroke="#666" stroke-width="0.9" />
<line x1="660.0" y1="1165.0" x2="726.5" y2="1165.0" stroke="#999" stroke-width="0.9" />
<path d="M648.30,1165.00 L640.80,1166.50 A1.50,1.50 0 0 1 640.80,1163.50 Z" fill="#2a2a2a"/>
<path d="M659.20,1165.00 L666.70,1163.50 A1.50,1.50 0 0 1 666.70,1166.50 Z" fill="#2a2a2a"/>
<text x="672.0" y="1158.4" font-family="&quot;Liberation Sans&quot;, sans-serif" font-size="13.8" font-weight="bold" text-anchor="start" fill="#111" textLength="38.0" lengthAdjust="spacingAndGlyphs">Φ6.5</text>
<line x1="622.0" y1="1246.0" x2="622.0" y2="1258.0" stroke="#2a2a2a" stroke-width="0.9" stroke-dasharray="5 2"/>
<path d="M622.00,1238.50 L623.50,1246.00 A1.50,1.50 0 0 1 620.50,1246.00 Z" fill="#2a2a2a"/>
<text x="613.2" y="1272.4" font-family="&quot;Liberation Sans&quot;, sans-serif" font-size="12.5" font-weight="normal" text-anchor="start" fill="#555" font-style="italic" textLength="9.5" lengthAdjust="spacingAndGlyphs">Ø</text>
<text x="625.0" y="1272.4" font-family="&quot;Liberation Sans&quot;, sans-serif" font-size="12.5" font-weight="bold" text-anchor="start" fill="#333" textLength="7.6" lengthAdjust="spacingAndGlyphs">3</text>
<line x1="607.4" y1="1276.6" x2="677.6" y2="1276.6" stroke="#888" stroke-width="0.9" />
<line x1="652.0" y1="1240.0" x2="652.0" y2="1278.4" stroke="#777" stroke-width="0.9" />
<line x1="656.0" y1="1240.0" x2="656.0" y2="1278.4" stroke="#777" stroke-width="0.9" />
<path d="M652.00,1276.60 L642.50,1278.10 A1.50,1.50 0 0 1 642.50,1275.10 Z" fill="#2a2a2a"/>
<path d="M656.00,1276.60 L665.50,1275.10 A1.50,1.50 0 0 1 665.50,1278.10 Z" fill="#2a2a2a"/>
<rect x="817.6" y="934" width="12.3" height="294" fill="url(#g7)"/>
<path d="M818.7,938 Q818.7,929 823.7,929 Q828.8,929 828.8,938" stroke="#2a2a2a" stroke-width="2.1" fill="#fff" />
<path d="M818.7,1228 L820.4,1233.6 Q823.7,1240 827,1233.6 L828.8,1228 Z" stroke="#2a2a2a" stroke-width="1.8" fill="#f4f4f4" stroke-linejoin="round"/>
<path d="M820.8,897 L821.8,927 L825.3,927 L826.4,897 Z" stroke="#444" stroke-width="1.2" fill="#fff" />
<rect x="820.8" y="926" width="5.6" height="3.4" fill="#111"/>
<path d="M807.5,832 L839.7,832 L839.7,875.6 L837.6,878.4 L839.7,881.2 L839.7,897 L807.5,897 L807.5,855 L809.6,852 L807.5,849 Z" stroke="#111" stroke-width="2.8" fill="#fff" stroke-linejoin="round"/>
<rect x="818" y="812" width="10.8" height="81.6" fill="#f0f0f0" stroke="#111" stroke-width="2.1"/>
<rect x="818.4" y="790.6" width="10.8" height="20.6" rx="2.4" fill="#fff" stroke="#111" stroke-width="1.6"/>
<path d="M821,793.5 L821,806 Q824,809 827.4,806 L827.4,793.5 Z" stroke="#2a2a2a" stroke-width="0" fill="#111" />
<path d="M823.4,792.5 L824.3,806 L825.2,792.5 Z" stroke="#2a2a2a" stroke-width="0" fill="#fff" />
<circle cx="824.2" cy="808.6" r="1" fill="#fff"/>
<ellipse cx="830.2" cy="798.8" rx="1.2" ry="3" fill="#111"/>
<line x1="819.0" y1="811.4" x2="828.6" y2="811.4" stroke="#2a2a2a" stroke-width="2" />
<line x1="795.3" y1="777.0" x2="861.7" y2="777.0" stroke="#444" stroke-width="1.0" />
<line x1="821.5" y1="773.5" x2="821.5" y2="787.0" stroke="#2a2a2a" stroke-width="1.2" />
<line x1="825.7" y1="773.5" x2="825.7" y2="787.0" stroke="#666" stroke-width="1.0" />
<path d="M820.90,777.00 L809.60,779.10 A2.10,2.10 0 0 1 809.60,774.90 Z" fill="#2a2a2a"/>
<path d="M827.00,777.00 L836.90,774.90 A2.10,2.10 0 0 1 836.90,779.10 Z" fill="#2a2a2a"/>
<text x="836.7" y="774.0" font-family="&quot;Liberation Sans&quot;, sans-serif" font-size="15.5" font-weight="normal" text-anchor="start" fill="#111" stroke="#111" stroke-width="0.3" textLength="19.5" lengthAdjust="spacingAndGlyphs">2.5</text>
<line x1="806.8" y1="819.3" x2="887.8" y2="819.3" stroke="#444" stroke-width="1.0" />
<line x1="806.8" y1="816.0" x2="806.8" y2="828.0" stroke="#555" stroke-width="1.0" stroke-dasharray="3.5 1.5"/>
<line x1="840.0" y1="816.0" x2="840.0" y2="828.0" stroke="#555" stroke-width="1.0" stroke-dasharray="3.5 1.5"/>
<path d="M807.00,819.30 L816.10,817.00 A2.30,2.30 0 0 1 816.10,821.60 Z" fill="#111"/>
<path d="M839.80,819.30 L830.70,821.60 A2.30,2.30 0 0 1 830.70,817.00 Z" fill="#111"/>
<text x="867.0" y="815.5" font-family="&quot;Liberation Sans&quot;, sans-serif" font-size="13.5" font-weight="normal" text-anchor="start" fill="#111" stroke="#111" stroke-width="0.3" textLength="13.5" lengthAdjust="spacingAndGlyphs">21</text>
</svg>
</body></html>
